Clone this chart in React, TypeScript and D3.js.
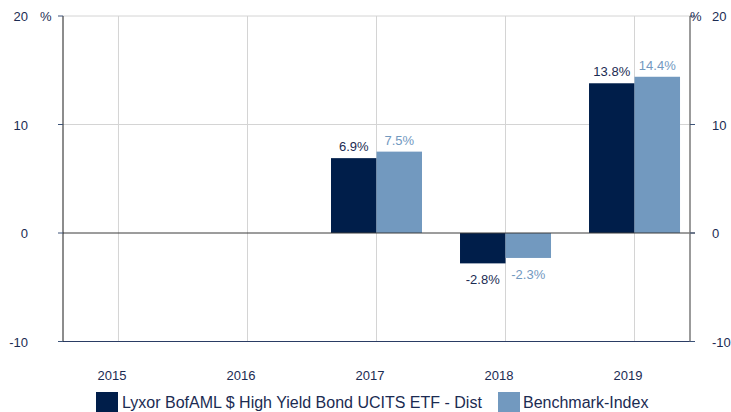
import React from "react";
import * as d3 from "d3";

const years = ["2015", "2016", "2017", "2018", "2019"];
const fundValues: (number | null)[] = [null, null, 6.9, -2.8, 13.8];
const benchValues: (number | null)[] = [null, null, 7.5, -2.3, 14.4];
const yTicks = [-10, 0, 10, 20];
const seriesNames = ["Lyxor BofAML $ High Yield Bond UCITS ETF - Dist", "Benchmark-Index"];

const W = 731;
const H = 412;
const left = 63;
const right = 690;
const top = 16;
const bottom = 341.5;
const DARK = "#001e4a";
const LIGHT = "#7299bf";
const TEXT = "#1b2b52";
const FONT = "Liberation Sans, Arial, sans-serif";

export default function App() {
  const x = d3.scalePoint<string>().domain(years).range([left, right]).padding(0.43);
  const y = d3.scaleLinear().domain([-10, 20]).range([bottom, top]);
  const barW = 45.5;

  return (
    <svg width={W} height={H} style={{ position: "absolute", left: 0, top: 0, background: "#fff" }} fontFamily={FONT}>
      {/* vertical gridlines */}
      {years.map((yr) => (
        <line key={"vg" + yr} x1={x(yr)} x2={x(yr)} y1={top} y2={bottom} stroke="#d4d4d4" strokeWidth={1} />
      ))}
      {/* horizontal gridlines */}
      {[20, 10].map((t) => (
        <line key={"hg" + t} x1={left} x2={right} y1={y(t)} y2={y(t)} stroke="#d4d4d4" strokeWidth={1} />
      ))}
      {/* bars */}
      {years.map((yr, i) => {
        const cx = x(yr) as number;
        const f = fundValues[i];
        const b = benchValues[i];
        return (
          <g key={"b" + yr}>
            {f !== null && (
              <rect x={cx - barW} width={barW} y={Math.min(y(f), y(0))} height={Math.abs(y(f) - y(0))} fill={DARK} />
            )}
            {b !== null && (
              <rect x={cx} width={barW} y={Math.min(y(b), y(0))} height={Math.abs(y(b) - y(0))} fill={LIGHT} />
            )}
            {f !== null && (
              <text x={cx - barW / 2} y={f >= 0 ? y(f) - 7 : y(f) + 21} textAnchor="middle" fontSize={13} fill={TEXT}>
                {f.toFixed(1) + "%"}
              </text>
            )}
            {b !== null && (
              <text x={cx + barW / 2} y={b >= 0 ? y(b) - 7 : y(b) + 21} textAnchor="middle" fontSize={13} fill={LIGHT}>
                {b.toFixed(1) + "%"}
              </text>
            )}
          </g>
        );
      })}
      {/* bottom line */}
      <line x1={left} x2={right} y1={y(-10)} y2={y(-10)} stroke="#2a3c64" strokeWidth={1} />
      {/* zero line */}
      <line x1={left} x2={right + 5} y1={y(0)} y2={y(0)} stroke="#3a3a3a" strokeWidth={1} />
      {/* left axis */}
      <line x1={left} x2={left} y1={top} y2={bottom} stroke="#1a1a1a" strokeWidth={1} />
      {yTicks.map((t) => (
        <g key={"lt" + t}>
          <line x1={left - 5} x2={left} y1={y(t)} y2={y(t)} stroke="#3c5378" strokeWidth={1} />
          <text x={28} y={y(t) + 5} textAnchor="end" fontSize={13} fill={TEXT}>
            {t}
          </text>
        </g>
      ))}
      <text x={40} y={y(20) + 5} fontSize={13} fill={TEXT}>%</text>
      {/* right axis */}
      <line x1={right} x2={right} y1={top} y2={bottom} stroke="#7a7a7a" strokeWidth={1.5} />
      {yTicks.map((t) => (
        <g key={"rt" + t}>
          <line x1={right} x2={right + 5} y1={y(t)} y2={y(t)} stroke="#3c5378" strokeWidth={1} />
          <text x={712} y={y(t) + 5} textAnchor="start" fontSize={13} fill={TEXT}>
            {t}
          </text>
        </g>
      ))}
      <text x={690} y={y(20) + 5} fontSize={13} fill={TEXT}>%</text>
      {/* x labels */}
      {years.map((yr) => (
        <text key={"xl" + yr} x={(x(yr) as number) - 6.5} y={380} textAnchor="middle" fontSize={13} fill={TEXT}>
          {yr}
        </text>
      ))}
      {/* legend */}
      <rect x={96} y={392} width={22} height={20} fill={DARK} />
      <text x={122} y={408} fontSize={16} fill={TEXT}>{seriesNames[0]}</text>
      <rect x={498} y={392} width={22} height={20} fill={LIGHT} />
      <text x={523} y={408} fontSize={16} fill={TEXT}>{seriesNames[1]}</text>
    </svg>
  );
}
